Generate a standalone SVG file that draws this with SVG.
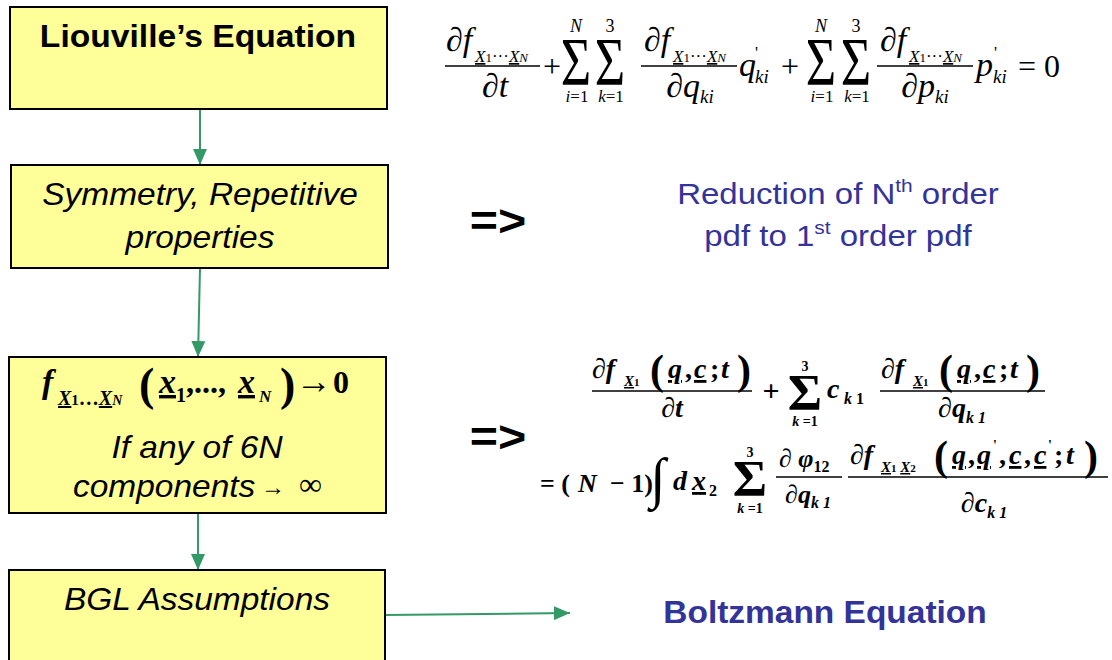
<svg xmlns="http://www.w3.org/2000/svg" width="1112" height="660" viewBox="0 0 1112 660">
<defs>
<style>
.box{fill:#ffff99;stroke:#000;stroke-width:2}
.conn{stroke:#339966;stroke-width:2;fill:none}
.t{font-family:"Liberation Sans",Arial,sans-serif;fill:#000}
.blue{fill:#333399}
.m{font-family:"Liberation Serif","Times New Roman",serif;font-style:italic;fill:#000}
.mb{font-family:"Liberation Serif","Times New Roman",serif;font-style:italic;font-weight:bold;fill:#000}
.u{text-decoration:underline}
.bar{stroke:#000;stroke-width:1.3}
.r{font-style:normal}
.sig{font-family:"Liberation Serif","Times New Roman",serif;font-style:normal;font-weight:normal;fill:#000}
.sigb{font-family:"Liberation Serif","Times New Roman",serif;font-style:normal;font-weight:bold;fill:#000}
</style>
<marker id="ah" markerUnits="userSpaceOnUse" markerWidth="16" markerHeight="14" refX="16" refY="7" orient="auto">
<path d="M0,0 L16,7 L0,14 z" fill="#339966"/>
</marker>
</defs>
<rect width="1112" height="660" fill="#fff"/>

<g id="connectors">
<path class="conn" d="M200,109 L200,165" marker-end="url(#ah)"/>
<path class="conn" d="M200,268 L198,357" marker-end="url(#ah)"/>
<path class="conn" d="M198,513 L198,570" marker-end="url(#ah)"/>
<path class="conn" d="M385,615 L570,613" marker-end="url(#ah)"/>
</g>

<g id="liouville">
<rect class="box" x="10" y="7" width="377" height="102"/>
<text class="t" transform="translate(198,47) scale(1.085,1)" font-size="31" font-weight="bold" text-anchor="middle">Liouville’s Equation</text>
</g>

<g id="symmetry">
<rect class="box" x="11" y="165" width="377" height="103"/>
<text class="t" transform="translate(200,205) scale(1.08,1)" font-size="31" font-style="italic" text-anchor="middle">Symmetry, Repetitive</text>
<text class="t" transform="translate(200,248) scale(1.08,1)" font-size="31" font-style="italic" text-anchor="middle">properties</text>
</g>

<g id="limit">
<rect class="box" x="9" y="357" width="377" height="156"/>
<text class="mb" x="42" y="393" font-size="34">f</text>
<text class="mb" x="58" y="405" font-size="20"><tspan class="u">X</tspan><tspan class="r" font-size="15">1</tspan><tspan class="r">…</tspan><tspan class="u">X</tspan><tspan font-size="14">N</tspan></text>
<text class="mb r" x="139" y="400" font-size="46">(</text>
<text class="mb" x="159" y="393" font-size="34"><tspan class="u">x</tspan></text>
<text class="mb r" x="176" y="402" font-size="20">1</text>
<text class="mb r" x="186" y="393" font-size="32">,...,</text>
<text class="mb" x="238" y="393" font-size="34"><tspan class="u">x</tspan></text>
<text class="mb" x="259" y="402" font-size="17">N</text>
<text class="mb r" x="280" y="400" font-size="46">)</text>
<text class="mb r" x="296" y="393" font-size="36">→</text>
<text class="mb r" x="333" y="393" font-size="32">0</text>
<text class="t" transform="translate(197,458) scale(1.08,1)" font-size="31" font-style="italic" text-anchor="middle">If any of 6N</text>
<text class="t" transform="translate(73,497) scale(1.08,1)" font-size="31" font-style="italic">components</text>
<text class="t" x="261" y="495" font-size="24">→</text>
<text class="m r" x="299" y="495" font-size="32">∞</text>
</g>

<g id="bgl">
<rect class="box" x="9" y="570" width="376" height="100"/>
<text class="t" transform="translate(197,610) scale(1.08,1)" font-size="31" font-style="italic" text-anchor="middle">BGL Assumptions</text>
</g>

<g id="arrow1">
<text class="t" transform="translate(498,236) scale(1.1,1)" font-size="44" font-weight="bold" text-anchor="middle">=&gt;</text>
</g>
<g id="arrow2">
<text class="t" transform="translate(498,452) scale(1.1,1)" font-size="44" font-weight="bold" text-anchor="middle">=&gt;</text>
</g>

<g id="reduction">
<text class="t blue" transform="translate(838,204) scale(1.1,1)" font-size="30" text-anchor="middle">Reduction of N<tspan font-size="19" dy="-12">th</tspan><tspan dy="12"> order</tspan></text>
<text class="t blue" transform="translate(838,246) scale(1.1,1)" font-size="30" text-anchor="middle">pdf to 1<tspan font-size="19" dy="-12">st</tspan><tspan dy="12"> order pdf</tspan></text>
</g>

<g id="boltzmann">
<text class="t blue" transform="translate(825,623) scale(1.08,1)" font-size="31" font-weight="bold" text-anchor="middle">Boltzmann Equation</text>
</g>

<g id="liouville-eq">
<!-- frac 1 -->
<text class="m" x="446" y="51" font-size="34">∂f</text>
<text class="m" x="475" y="62" font-size="17"><tspan class="u">X</tspan><tspan class="r" font-size="13">1</tspan><tspan class="r">···</tspan><tspan class="u">X</tspan><tspan font-size="13">N</tspan></text>
<line class="bar" x1="445" y1="66" x2="540" y2="66"/>
<text class="m" x="495" y="97" font-size="34" text-anchor="middle">∂t</text>
<text class="m r" x="552" y="77" font-size="32" text-anchor="middle">+</text>
<text class="sig" transform="translate(576,84) scale(0.78,1)" font-size="67" text-anchor="middle">Σ</text>
<text class="m" x="576" y="32" font-size="18" text-anchor="middle">N</text>
<text class="m" x="577" y="102" font-size="17" text-anchor="middle">i<tspan class="r">=1</tspan></text>
<text class="sig" transform="translate(610,84) scale(0.78,1)" font-size="67" text-anchor="middle">Σ</text>
<text class="m r" x="610" y="32" font-size="18" text-anchor="middle">3</text>
<text class="m" x="611" y="102" font-size="17" text-anchor="middle">k<tspan class="r">=1</tspan></text>
<!-- frac 2 -->
<text class="m" x="644" y="51" font-size="34">∂f</text>
<text class="m" x="673" y="62" font-size="17"><tspan class="u">X</tspan><tspan class="r" font-size="13">1</tspan><tspan class="r">···</tspan><tspan class="u">X</tspan><tspan font-size="13">N</tspan></text>
<line class="bar" x1="641" y1="66" x2="737" y2="66"/>
<text class="m" x="690" y="97" font-size="34" text-anchor="middle">∂q<tspan font-size="19" dy="6">ki</tspan></text>
<text class="m" x="739" y="76" font-size="34">q</text>
<text class="m r" x="755" y="58" font-size="17">'</text>
<text class="m" x="755" y="83" font-size="19">ki</text>
<text class="m r" x="790" y="77" font-size="32" text-anchor="middle">+</text>
<text class="sig" transform="translate(821,84) scale(0.78,1)" font-size="67" text-anchor="middle">Σ</text>
<text class="m" x="821" y="32" font-size="18" text-anchor="middle">N</text>
<text class="m" x="822" y="102" font-size="17" text-anchor="middle">i<tspan class="r">=1</tspan></text>
<text class="sig" transform="translate(856,84) scale(0.78,1)" font-size="67" text-anchor="middle">Σ</text>
<text class="m r" x="856" y="32" font-size="18" text-anchor="middle">3</text>
<text class="m" x="857" y="102" font-size="17" text-anchor="middle">k<tspan class="r">=1</tspan></text>
<!-- frac 3 -->
<text class="m" x="880" y="51" font-size="34">∂f</text>
<text class="m" x="909" y="62" font-size="17"><tspan class="u">X</tspan><tspan class="r" font-size="13">1</tspan><tspan class="r">···</tspan><tspan class="u">X</tspan><tspan font-size="13">N</tspan></text>
<line class="bar" x1="877" y1="66" x2="973" y2="66"/>
<text class="m" x="925" y="97" font-size="34" text-anchor="middle">∂p<tspan font-size="19" dy="6">ki</tspan></text>
<text class="m" x="976" y="76" font-size="34">p</text>
<text class="m r" x="994" y="58" font-size="17">'</text>
<text class="m" x="993" y="83" font-size="19">ki</text>
<text class="m r" x="1018" y="77" font-size="32">= 0</text>
</g>

<g id="boltzmann-eq">
<!-- line 1 -->
<text class="mb" x="592" y="378" font-size="28"><tspan class="r">∂</tspan>f</text>
<text class="mb" x="624" y="386" font-size="15"><tspan class="u">X</tspan><tspan class="r" font-size="11">1</tspan></text>
<text class="mb r" x="650" y="384" font-size="42">(</text>
<text class="mb" x="668" y="378" font-size="28"><tspan class="u">q</tspan></text>
<text class="mb r" x="685" y="378" font-size="28">,</text>
<text class="mb" x="694" y="378" font-size="28"><tspan class="u">c</tspan></text>
<text class="mb r" x="710" y="378" font-size="28">;</text>
<text class="mb" x="721" y="378" font-size="28">t</text>
<text class="mb r" x="737" y="384" font-size="42">)</text>
<line class="bar" x1="592" y1="391" x2="752" y2="391"/>
<text class="mb" x="672" y="417" font-size="28" text-anchor="middle"><tspan class="r">∂</tspan>t</text>
<text class="mb r" x="771" y="401" font-size="30" text-anchor="middle">+</text>
<text class="sigb" transform="translate(805,409) scale(1.05,1)" font-size="50" text-anchor="middle">Σ</text>
<text class="mb r" x="805" y="371" font-size="14" text-anchor="middle">3</text>
<text class="mb" x="805" y="426" font-size="14" text-anchor="middle">k<tspan class="r"> =1</tspan></text>
<text class="mb" x="827" y="398" font-size="28">c</text>
<text class="mb" x="844" y="404" font-size="16">k<tspan class="r"> 1</tspan></text>
<text class="mb" x="881" y="378" font-size="28"><tspan class="r">∂</tspan>f</text>
<text class="mb" x="913" y="386" font-size="15"><tspan class="u">X</tspan><tspan class="r" font-size="11">1</tspan></text>
<text class="mb r" x="939" y="384" font-size="42">(</text>
<text class="mb" x="957" y="378" font-size="28"><tspan class="u">q</tspan></text>
<text class="mb r" x="974" y="378" font-size="28">,</text>
<text class="mb" x="983" y="378" font-size="28"><tspan class="u">c</tspan></text>
<text class="mb r" x="999" y="378" font-size="28">;</text>
<text class="mb" x="1010" y="378" font-size="28">t</text>
<text class="mb r" x="1026" y="384" font-size="42">)</text>
<line class="bar" x1="880" y1="391" x2="1045" y2="391"/>
<text class="mb" x="962" y="417" font-size="28" text-anchor="middle"><tspan class="r">∂</tspan>q<tspan font-size="16" dy="6">k 1</tspan></text>
<!-- line 2 -->
<text class="mb r" x="540" y="492" font-size="26">= (</text>
<text class="mb" x="578" y="492" font-size="26">N</text>
<text class="mb r" x="610" y="492" font-size="26">− 1)</text>
<text class="mb r" x="650" y="497" font-size="56">∫</text>
<text class="mb" x="673" y="490" font-size="28">d</text>
<text class="mb" x="692" y="490" font-size="28"><tspan class="u">x</tspan></text>
<text class="mb r" x="709" y="496" font-size="16">2</text>
<text class="sigb" transform="translate(750,495) scale(1.05,1)" font-size="50" text-anchor="middle">Σ</text>
<text class="mb r" x="750" y="457" font-size="14" text-anchor="middle">3</text>
<text class="mb" x="750" y="513" font-size="14" text-anchor="middle">k<tspan class="r"> =1</tspan></text>
<text class="mb" x="779" y="467" font-size="26"><tspan class="r">∂</tspan> φ<tspan class="r" font-size="16" dy="5">12</tspan></text>
<line class="bar" x1="776" y1="477" x2="842" y2="477"/>
<text class="mb" x="808" y="503" font-size="26" text-anchor="middle"><tspan class="r">∂</tspan>q<tspan font-size="16" dy="5">k 1</tspan></text>
<text class="mb" x="850" y="464" font-size="28"><tspan class="r">∂</tspan>f</text>
<text class="mb" x="881" y="472" font-size="15"><tspan class="u">X</tspan><tspan class="r" font-size="11">1</tspan> <tspan class="u">X</tspan><tspan class="r" font-size="11">2</tspan></text>
<text class="mb r" x="934" y="470" font-size="42">(</text>
<text class="mb" x="952" y="464" font-size="28"><tspan class="u">q</tspan></text>
<text class="mb r" x="968" y="464" font-size="28">,</text>
<text class="mb" x="977" y="464" font-size="28"><tspan class="u">q</tspan></text>
<text class="mb r" x="993" y="450" font-size="14">'</text>
<text class="mb r" x="999" y="464" font-size="28">,</text>
<text class="mb" x="1009" y="464" font-size="28"><tspan class="u">c</tspan></text>
<text class="mb r" x="1024" y="464" font-size="28">,</text>
<text class="mb" x="1034" y="464" font-size="28"><tspan class="u">c</tspan></text>
<text class="mb r" x="1048" y="450" font-size="14">'</text>
<text class="mb r" x="1054" y="464" font-size="28">;</text>
<text class="mb" x="1066" y="464" font-size="28">t</text>
<text class="mb r" x="1084" y="470" font-size="42">)</text>
<line class="bar" x1="848" y1="477" x2="1108" y2="477"/>
<text class="mb" x="984" y="512" font-size="28" text-anchor="middle"><tspan class="r">∂</tspan>c<tspan font-size="16" dy="6">k 1</tspan></text>
</g>
</svg>
